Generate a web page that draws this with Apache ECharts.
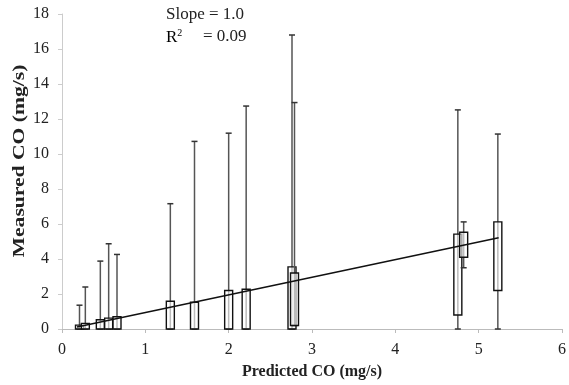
<!DOCTYPE html>
<html>
<head>
<meta charset="utf-8">
<script src="https://cdn.jsdelivr.net/npm/echarts@6/dist/echarts.min.js"></script>
<style>
html,body{margin:0;padding:0;background:#fff;}
#chart{width:569px;height:385px;}
</style>
</head>
<body>
<div id="chart"></div>
<script>
// predicted CO for each group
var predicted = [0.21, 0.28, 0.46, 0.56, 0.66, 1.30, 1.59, 2.00, 2.21, 2.76, 2.79, 4.75, 4.82, 5.23];
// whisker low, box low, box high, whisker high (measured CO)
var whiskerLow = [0, 0, 0, 0, 0, 0, 0, 0, 0, 0, 0.2, 0, 3.5, 0];
var boxLow     = [0, 0, 0, 0, 0, 0, 0, 0, 0, 0, 0.2, 0.8, 4.1, 2.2];
var boxHigh    = [0.22, 0.32, 0.53, 0.62, 0.7, 1.59, 1.53, 2.2, 2.27, 3.55, 3.2, 5.42, 5.53, 6.12];
var whiskerHigh= [1.36, 2.4, 3.88, 4.87, 4.26, 7.16, 10.72, 11.19, 12.74, 16.8, 12.94, 12.52, 6.12, 11.14];
// fitted line end points
var fitX = [0.18, 5.24];
var fitY = [0.12, 5.22];

var boxData = [];
for (var i = 0; i < predicted.length; i++) {
    boxData.push([predicted[i], whiskerLow[i], boxLow[i], boxHigh[i], whiskerHigh[i]]);
}
var lineData = [[fitX[0], fitY[0]], [fitX[1], fitY[1]]];

function renderBox(params, api) {
    var x = api.value(0);
    var pLow = api.coord([x, api.value(1)]);
    var pBoxLow = api.coord([x, api.value(2)]);
    var pBoxHigh = api.coord([x, api.value(3)]);
    var pHigh = api.coord([x, api.value(4)]);
    var w = 8, cap = 3;
    return {
        type: 'group',
        children: [
            {type: 'line', shape: {x1: pLow[0], y1: pLow[1], x2: pHigh[0], y2: pHigh[1]},
                style: {stroke: '#555', lineWidth: 1.5}},
            {type: 'line', shape: {x1: pHigh[0] - cap, y1: pHigh[1], x2: pHigh[0] + cap, y2: pHigh[1]},
                style: {stroke: '#333', lineWidth: 1.5}},
            {type: 'line', shape: {x1: pLow[0] - cap, y1: pLow[1], x2: pLow[0] + cap, y2: pLow[1]},
                style: {stroke: '#333', lineWidth: 1.5}},
            {type: 'rect', shape: {x: pBoxHigh[0] - w / 2, y: pBoxHigh[1], width: w, height: pBoxLow[1] - pBoxHigh[1]},
                style: {fill: 'rgba(255,255,255,0.6)', stroke: '#111', lineWidth: 1.4}}
        ]
    };
}

var myChart = echarts.init(document.getElementById('chart'));
var serif = 'Liberation Serif';
var option = {
    backgroundColor: '#fff',
    animation: false,
    grid: {left: 62, right: 4, top: 14, bottom: 54},
    xAxis: {
        type: 'value', min: 0, max: 6, interval: 1,
        name: 'Predicted CO (mg/s)', nameLocation: 'middle', nameGap: 35,
        nameTextStyle: {fontFamily: serif, fontWeight: 'bold', fontSize: 16, color: '#222'},
        axisLine: {lineStyle: {color: '#bbb'}},
        axisTick: {show: true, length: 4, lineStyle: {color: '#bbb'}},
        splitLine: {show: false},
        axisLabel: {fontFamily: serif, fontSize: 16, color: '#222', margin: 13}
    },
    yAxis: {
        type: 'value', min: 0, max: 18, interval: 2,
        axisLine: {show: true, lineStyle: {color: '#ccc'}},
        axisTick: {show: true, length: 4, lineStyle: {color: '#ccc'}},
        splitLine: {show: false},
        axisLabel: {fontFamily: serif, fontSize: 16, color: '#222', margin: 13}
    },
    graphic: [
        {type: 'text', x: 20, y: 161, rotation: Math.PI / 2, scaleX: 1.35, scaleY: 1,
            style: {text: 'Measured CO (mg/s)', font: 'bold 16px "Liberation Serif"', fill: '#222',
                align: 'center', verticalMiddle: 'middle', textVerticalAlign: 'middle'}},
        {type: 'text', left: 166, top: 6, style: {text: 'Slope = 1.0', font: '17px "Liberation Serif"', fill: '#222'}},
        {type: 'text', left: 166, top: 28, style: {
            text: '{r|R}{s|2}',
            rich: {
                r: {fontFamily: serif, fontSize: 17, color: '#222'},
                s: {fontFamily: serif, fontSize: 10, color: '#222', verticalAlign: 'top', padding: [0, 0, 10, 0]}
            }
        }},
        {type: 'text', left: 203, top: 28, style: {text: '= 0.09', font: '17px "Liberation Serif"', fill: '#222'}}
    ],
    series: [
        {
            type: 'custom',
            renderItem: renderBox,
            encode: {x: 0, y: [1, 2, 3, 4]},
            data: boxData,
            z: 2
        },
        {
            type: 'line',
            data: lineData,
            symbol: 'none',
            lineStyle: {color: '#111', width: 1.5},
            z: 3
        }
    ]
};
myChart.setOption(option);
</script>
</body>
</html>
